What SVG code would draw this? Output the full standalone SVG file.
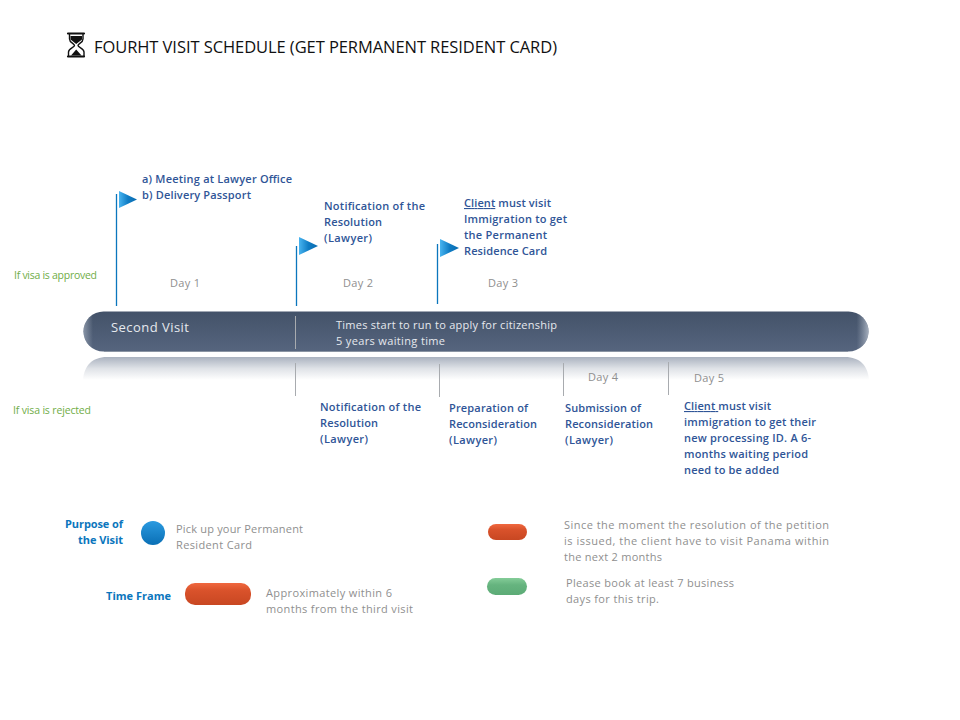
<svg xmlns="http://www.w3.org/2000/svg" width="960" height="720" viewBox="0 0 960 720">
<style>
text{font-family:"Open Sans","Noto Sans","DejaVu Sans",sans-serif;font-size:11px}
.b{font-weight:600;fill:#2f5597}
.g{fill:#8f8f8f}
.v{fill:#70ad47;font-size:10.5px}
.w{fill:#e6e9ee}
.l{font-weight:700;fill:#0b76bd}
.pole{stroke:#0b76bd;stroke-width:1.3;fill:none}
.sep{stroke:#a8abaf;stroke-width:1;fill:none}
.flag{fill:url(#fg)}
</style>
<defs>
<linearGradient id="fg" x1="0" y1="0" x2="1" y2="0"><stop offset="0" stop-color="#48b4f0"/><stop offset=".5" stop-color="#0f7cc4"/><stop offset="1" stop-color="#0a6cb0"/></linearGradient>
<linearGradient id="bar" x1="0" y1="0" x2="0" y2="1"><stop offset="0" stop-color="#435269"/><stop offset="1" stop-color="#56657e"/></linearGradient>
<linearGradient id="rim" x1="0" y1="0" x2="1" y2="0"><stop offset="0" stop-color="#9aa5b5" stop-opacity=".75"/><stop offset=".012" stop-color="#9aa5b5" stop-opacity="0"/><stop offset=".985" stop-color="#9aa5b5" stop-opacity="0"/><stop offset="1" stop-color="#aeb7c4" stop-opacity=".9"/></linearGradient>
<linearGradient id="ref" x1="0" y1="0" x2="0" y2="1"><stop offset="0" stop-color="#aab2bf"/><stop offset=".5" stop-color="#dfe2e7"/><stop offset="1" stop-color="#ffffff"/></linearGradient>
<linearGradient id="red" x1="0" y1="0" x2="0" y2="1"><stop offset="0" stop-color="#f0683f"/><stop offset=".35" stop-color="#d9522b"/><stop offset="1" stop-color="#c84722"/></linearGradient>
<linearGradient id="grn" x1="0" y1="0" x2="0" y2="1"><stop offset="0" stop-color="#84cc98"/><stop offset=".4" stop-color="#66b47f"/><stop offset="1" stop-color="#5cab76"/></linearGradient>
<linearGradient id="blu" x1="0" y1="0" x2="0" y2="1"><stop offset="0" stop-color="#2a9ae0"/><stop offset="1" stop-color="#0a6fb5"/></linearGradient>
</defs>
<rect width="960" height="720" fill="#fff"/>
<g id="title">
<path d="M68 33.500H84M68 56.500H84" fill="none" stroke="#111" stroke-width="2.200" stroke-linecap="round"/>
<path d="M69.500 34V39C69.500 43 74.500 43.500 74.500 45.500C74.500 47.500 68.500 48 68.500 52V56M83 34V39C83 43 78 43.500 78 45.500C78 47.500 84 48 84 52V56" fill="none" stroke="#111" stroke-width="1.400"/>
<path d="M70.500 36H82V39.500L76.200 44 70.500 39.500ZM71 55.500L76.200 49.500 81.500 55.500Z" fill="#111"/>
<text x="94" y="53" style="font-size:16.500px" fill="#111" textLength="463">FOURHT VISIT SCHEDULE (GET PERMANENT RESIDENT CARD)</text>
</g>
<g id="bar-reflection"><path d="M83 380C84 366 92 357 107 357H845C860 357 868 366 869 380Z" fill="url(#ref)"/></g>
<g id="bar">
<rect x="83.500" y="311.500" width="785" height="40" rx="20" fill="url(#bar)"/>
<rect x="83.500" y="311.500" width="785" height="40" rx="20" fill="url(#rim)"/>
<path d="M104 351.500H848" stroke="#8a94a3" stroke-width="1" fill="none"/>
<text x="111" y="332" class="w" style="font-size:13px" textLength="78">Second Visit</text>
<text x="336" y="329" class="w" textLength="221">Times start to run to apply for citizenship</text>
<text x="336" y="345" class="w" textLength="109">5 years waiting time</text>
</g>
<g id="connectors">
<path class="pole" d="M116.500 194V306M296.500 246V306M437.500 244V304"/>
<path class="sep" d="M295.500 316V349M295.500 363V396M439.500 364V397M563.500 363V396M668.500 362V395"/>
</g>
<g id="flag-1"><path class="flag" d="M119 191L137 199.500 119 208Z"/>
<text x="142" y="183" class="b" textLength="150">a) Meeting at Lawyer Office</text>
<text x="142" y="199" class="b" textLength="109">b) Delivery Passport</text>
<text x="170" y="287" class="g" textLength="30">Day 1</text></g>
<g id="flag-2"><path class="flag" d="M299 237L318 246 299 255Z"/>
<text x="324" y="210" class="b" textLength="101">Notification of the</text>
<text x="324" y="226" class="b" textLength="58">Resolution</text>
<text x="324" y="242" class="b" textLength="48">(Lawyer)</text>
<text x="343" y="287" class="g" textLength="30">Day 2</text></g>
<g id="flag-3"><path class="flag" d="M440 239L459 248 440 257Z"/>
<text x="464" y="207" class="b" textLength="87"><tspan text-decoration="underline">Client</tspan> must visit</text>
<text x="464" y="223" class="b" textLength="103">Immigration to get</text>
<text x="464" y="239" class="b" textLength="83">the Permanent</text>
<text x="464" y="255" class="b" textLength="83">Residence Card</text>
<text x="488" y="287" class="g" textLength="30">Day 3</text></g>
<g id="visa-labels">
<text x="14" y="279" class="v" textLength="83">If visa is approved</text>
<text x="13" y="414" class="v" textLength="78">If visa is rejected</text>
</g>
<g id="step-notification">
<text x="320" y="411" class="b" textLength="101">Notification of the</text>
<text x="320" y="427" class="b" textLength="58">Resolution</text>
<text x="320" y="443" class="b" textLength="48">(Lawyer)</text></g>
<g id="step-preparation">
<text x="449" y="412" class="b" textLength="79">Preparation of</text>
<text x="449" y="428" class="b" textLength="88">Reconsideration</text>
<text x="449" y="444" class="b" textLength="48">(Lawyer)</text></g>
<g id="step-submission">
<text x="588" y="381" class="g" textLength="30">Day 4</text>
<text x="565" y="412" class="b" textLength="76">Submission of</text>
<text x="565" y="428" class="b" textLength="88">Reconsideration</text>
<text x="565" y="444" class="b" textLength="48">(Lawyer)</text></g>
<g id="step-client">
<text x="694" y="382" class="g" textLength="30">Day 5</text>
<text x="684" y="410" class="b" textLength="87"><tspan text-decoration="underline">Client </tspan>must visit</text>
<text x="684" y="426" class="b" textLength="132">immigration to get their</text>
<text x="684" y="442" class="b" textLength="127">new processing ID. A 6-</text>
<text x="684" y="458" class="b" textLength="124">months waiting period</text>
<text x="684" y="474" class="b" textLength="95">need to be added</text></g>
<g id="legend-purpose">
<text x="65" y="528" class="l" textLength="58">Purpose of</text>
<text x="78" y="544" class="l" textLength="45">the Visit</text>
<circle cx="153" cy="533" r="12" fill="url(#blu)"/>
<text x="176" y="533" class="g" textLength="127">Pick up your Permanent</text>
<text x="176" y="549" class="g" textLength="76">Resident Card</text></g>
<g id="legend-time">
<text x="106" y="600" class="l" textLength="65">Time Frame</text>
<rect x="185" y="583" width="66" height="22" rx="10" fill="url(#red)"/>
<text x="266" y="597" class="g" textLength="126">Approximately within 6</text>
<text x="266" y="613" class="g" textLength="147">months from the third visit</text></g>
<g id="legend-deadline">
<rect x="488" y="524" width="39" height="16" rx="8" fill="url(#red)"/>
<text x="564" y="529" class="g" textLength="265">Since the moment the resolution of the petition</text>
<text x="564" y="545" class="g" textLength="265">is issued, the client have to visit Panama within</text>
<text x="564" y="561" class="g" textLength="98">the next 2 months</text></g>
<g id="legend-booking">
<rect x="487" y="578" width="40" height="17" rx="8.500" fill="url(#grn)"/>
<text x="566" y="587" class="g" textLength="168">Please book at least 7 business</text>
<text x="566" y="603" class="g" textLength="93">days for this trip.</text></g>
</svg>
